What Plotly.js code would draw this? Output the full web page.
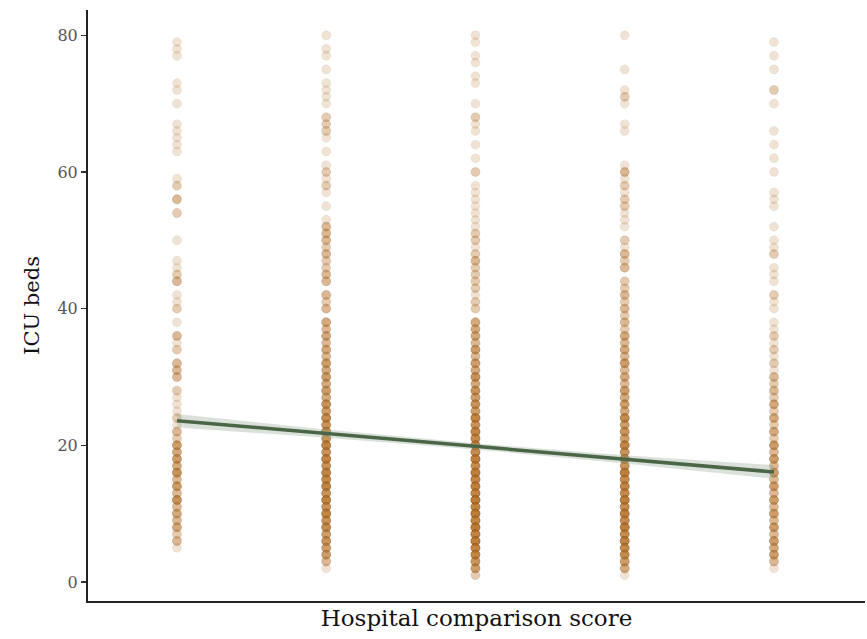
<!DOCTYPE html>
<html>
<head>
<meta charset="utf-8">
<script src="https://cdn.plot.ly/plotly-3.0.1.min.js"></script>
<style>html,body{margin:0;padding:0;background:#fff;}#chart{width:867px;height:639px;}</style>
</head>
<body>
<div id="chart"></div>
<script>
// Hospital comparison score groups
const scoreX = [1, 2, 3, 4, 5];

// ICU beds values per score group, with number of hospitals at each value
const col1Y = [79,78,77,73,72,70,67,66,65,64,63,59,58,56,54,50,47,46,45,44,42,41,40,38,36,35,34,32,31,30,28,27,26,25,24,23,22,21,20,19,18,17,16,15,14,13,12,11,10,9,8,7,6,5];
const col1N = [1,1,1,1,1,1,1,1,1,1,1,1,2,3,2,1,1,1,2,3,1,1,2,1,3,1,2,3,3,3,2,1,1,1,2,1,3,2,5,4,5,4,6,3,5,3,6,3,4,3,4,2,3,1];

const col2Y = [80,78,77,75,73,72,71,70,68,67,66,65,63,61,60,59,58,57,55,53,52,51,50,49,48,47,46,45,44,42,41,40,38,37,36,35,34,33,32,31,30,29,28,27,26,25,24,23,22,21,20,19,18,17,16,15,14,13,12,11,10,9,8,7,6,5,4,3,2];
const col2N = [1,1,1,1,1,1,1,1,2,2,2,1,1,1,2,1,2,1,1,1,3,3,3,2,3,2,2,3,3,3,2,3,4,3,4,3,4,3,5,4,5,4,5,4,6,5,7,6,7,6,8,6,8,6,8,7,8,6,8,6,8,6,7,5,6,5,5,3,1];

const col3Y = [80,79,77,76,74,73,70,68,67,66,64,62,60,58,57,56,55,54,53,52,51,50,49,48,47,46,45,44,43,42,41,40,38,37,36,35,34,33,32,31,30,29,28,27,26,25,24,23,22,21,20,19,18,17,16,15,14,13,12,11,10,9,8,7,6,5,4,3,2,1];
const col3N = [1,1,1,1,1,1,1,2,1,1,1,1,2,1,1,1,1,1,1,1,2,2,1,2,3,2,2,2,2,1,2,2,4,4,4,3,5,3,5,4,6,4,6,5,6,5,8,6,8,7,9,7,9,7,9,8,9,8,10,8,10,8,10,8,9,8,8,6,5,2];

const col4Y = [80,75,72,71,70,67,66,61,60,59,58,57,56,55,54,53,52,50,49,48,47,46,44,43,42,41,40,39,38,37,36,35,34,33,32,31,30,29,28,27,26,25,24,23,22,21,20,19,18,17,16,15,14,13,12,11,10,9,8,7,6,5,4,3,2,1];
const col4N = [1,1,1,2,1,1,1,1,3,1,2,1,2,2,1,1,1,2,1,3,2,3,2,2,3,2,3,2,3,2,4,3,4,3,5,3,4,3,5,4,5,4,7,5,6,5,8,6,8,6,9,7,8,7,9,7,9,7,9,7,8,7,7,5,4,1];

const col5Y = [79,77,75,72,70,66,64,62,60,57,56,55,52,50,49,48,46,45,44,42,41,40,38,37,36,35,34,33,32,31,30,29,28,27,26,25,24,23,22,21,20,19,18,17,16,15,14,13,12,11,10,9,8,7,6,5,4,3,2];
const col5N = [1,1,1,2,1,1,1,1,1,1,1,1,1,1,1,2,1,1,1,2,1,1,1,1,2,1,2,1,2,1,3,2,3,2,4,2,4,2,4,2,5,3,5,3,5,3,5,3,5,3,5,3,5,3,5,4,5,3,1];

// Linear fit with confidence band
const fitX = [1, 2, 3, 4, 5];
const fitY = [23.6, 21.7, 19.85, 17.95, 16.1];
const fitLow = [22.6, 21.1, 19.4, 17.35, 15.1];
const fitHigh = [24.6, 22.3, 20.3, 18.55, 17.1];

const cols = [[col1Y, col1N], [col2Y, col2N], [col3Y, col3N], [col4Y, col4N], [col5Y, col5N]];
const px = [], py = [];
cols.forEach(function (c, i) {
  c[0].forEach(function (v, j) {
    for (let k = 0; k < c[1][j]; k++) { px.push(scoreX[i]); py.push(v); }
  });
});

const traces = [
  {
    x: px, y: py, type: 'scatter', mode: 'markers', hoverinfo: 'skip',
    marker: {size: 9, symbol: 'circle', color: 'rgba(180,108,25,0.19)',
             line: {width: 1, color: 'rgba(120,90,60,0.08)'}}
  },
  {
    x: fitX.concat(fitX.slice().reverse()),
    y: fitHigh.concat(fitLow.slice().reverse()),
    type: 'scatter', mode: 'lines', fill: 'toself',
    fillcolor: 'rgba(150,170,150,0.35)', line: {width: 0}, hoverinfo: 'skip'
  },
  {
    x: fitX, y: fitY, type: 'scatter', mode: 'lines',
    line: {color: '#4a6647', width: 3.5}
  }
];

const layout = {
  width: 867, height: 639,
  margin: {l: 88, r: 2, t: 10, b: 38},
  paper_bgcolor: '#ffffff', plot_bgcolor: '#ffffff',
  showlegend: false,
  font: {family: 'DejaVu Serif, Liberation Serif, serif', color: '#555'},
  xaxis: {
    range: [0.404, 5.61], showgrid: false, zeroline: false,
    showticklabels: false, ticks: '',
    showline: true, linecolor: '#222', linewidth: 2,
    title: {text: 'Hospital comparison score', standoff: 8,
            font: {family: 'DejaVu Serif, serif', size: 23, color: '#111'}}
  },
  yaxis: {
    range: [-2.78, 83.7], showgrid: false, zeroline: false,
    tickvals: [0, 20, 40, 60, 80], ticktext: ['0', '20', '40', '60', '80'],
    ticks: 'outside', ticklen: 5, tickwidth: 1.5, tickcolor: '#333',
    tickfont: {family: 'DejaVu Serif, serif', size: 16, color: '#555'},
    showline: true, linecolor: '#222', linewidth: 2,
    title: {text: 'ICU beds', standoff: 12,
            font: {family: 'DejaVu Serif, serif', size: 21, color: '#111'}}
  }
};

Plotly.newPlot('chart', traces, layout, {displayModeBar: false, staticPlot: true});
</script>
</body>
</html>
